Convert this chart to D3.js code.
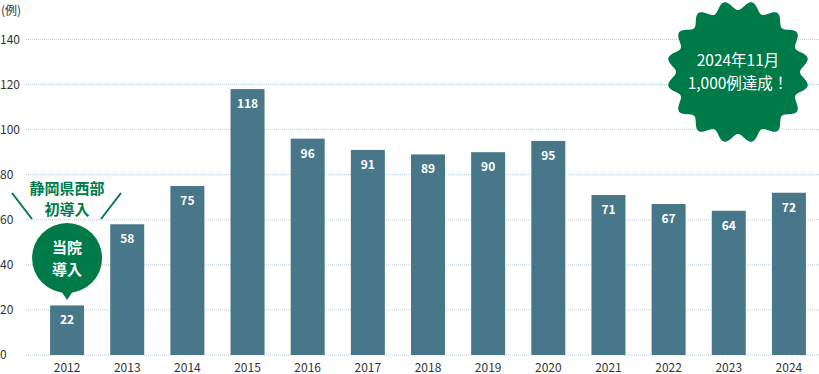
<!DOCTYPE html>
<html>
<head>
<meta charset="utf-8">
<script src="https://cdn.jsdelivr.net/npm/d3@7"></script>
<style>
  body { margin: 0; background: #fff; }
  svg { display: block; font-family: "Noto Sans CJK JP", "Noto Sans", sans-serif; }
</style>
</head>
<body>
<div id="chart"></div>
<script>
// chart data
const years = ["2012", "2013", "2014", "2015", "2016", "2017", "2018", "2019", "2020", "2021", "2022", "2023", "2024"];
const cases = [22, 58, 75, 118, 96, 91, 89, 90, 95, 71, 67, 64, 72];
const yTicks = [0, 20, 40, 60, 80, 100, 120, 140];
const unitLabel = "(例)";
const calloutLines = ["当院", "導入"];
const firstLines = ["静岡県西部", "初導入"];
const badgeLines = ["2024年11月", "1,000例達成！"];

const width = 819, height = 374;
const barColor = "#477789";
const green = "#007a48";

const svg = d3.select("#chart").append("svg")
    .attr("width", width)
    .attr("height", height);

const x = d3.scaleBand()
    .domain(years)
    .range([37, 819])
    .paddingInner(0.435)
    .paddingOuter(0.2175);

const y = d3.scaleLinear()
    .domain([0, 140])
    .range([355, 39.5]);

// gridlines
svg.append("g")
    .selectAll("line")
    .data(yTicks)
    .enter()
    .append("line")
    .attr("x1", 26)
    .attr("x2", width)
    .attr("y1", d => y(d))
    .attr("y2", d => y(d))
    .attr("stroke", "#b9cfdc")
    .attr("stroke-width", 1)
    .attr("stroke-dasharray", "1,1");

// y axis labels
svg.append("g")
    .selectAll("text")
    .data(yTicks)
    .enter()
    .append("text")
    .attr("x", 0)
    .attr("y", d => y(d))
    .attr("dy", "0.35em")
    .attr("font-size", 12)
    .attr("fill", "#333")
    .text(d => d);

svg.append("text")
    .attr("x", 1)
    .attr("y", 15)
    .attr("font-size", 12)
    .attr("fill", "#333")
    .text(unitLabel);

// bars
svg.append("g")
    .selectAll("rect")
    .data(cases)
    .enter()
    .append("rect")
    .attr("x", (d, i) => x(years[i]))
    .attr("y", d => y(d))
    .attr("width", x.bandwidth())
    .attr("height", d => y(0) - y(d))
    .attr("fill", barColor);

// value labels
svg.append("g")
    .selectAll("text")
    .data(cases)
    .enter()
    .append("text")
    .attr("x", (d, i) => x(years[i]) + x.bandwidth() / 2)
    .attr("y", d => y(d) + 19)
    .attr("text-anchor", "middle")
    .attr("font-size", 12)
    .attr("font-weight", "bold")
    .attr("fill", "#fff")
    .text(d => d);

// x axis labels
svg.append("g")
    .selectAll("text")
    .data(years)
    .enter()
    .append("text")
    .attr("x", d => x(d) + x.bandwidth() / 2)
    .attr("y", 372)
    .attr("text-anchor", "middle")
    .attr("font-size", 12)
    .attr("fill", "#333")
    .text(d => d);

// callout bubble over 2012
const cx = x(years[0]) + x.bandwidth() / 2;
const bubble = svg.append("g");
bubble.append("circle")
    .attr("cx", cx)
    .attr("cy", 258)
    .attr("r", 35)
    .attr("fill", green);
bubble.append("path")
    .attr("d", `M${cx - 8},288 L${cx},300 L${cx + 8},288 Z`)
    .attr("fill", green);
bubble.selectAll("text")
    .data(calloutLines)
    .enter()
    .append("text")
    .attr("x", cx)
    .attr("y", (d, i) => 253 + i * 22)
    .attr("text-anchor", "middle")
    .attr("font-size", 15)
    .attr("font-weight", "bold")
    .attr("fill", "#fff")
    .text(d => d);

// "first in region" note
svg.append("g")
    .selectAll("text")
    .data(firstLines)
    .enter()
    .append("text")
    .attr("x", cx)
    .attr("y", (d, i) => 194 + i * 21)
    .attr("text-anchor", "middle")
    .attr("font-size", 15)
    .attr("font-weight", "bold")
    .attr("fill", green)
    .text(d => d);

svg.append("line")
    .attr("x1", 12).attr("y1", 193)
    .attr("x2", 32).attr("y2", 219)
    .attr("stroke", green).attr("stroke-width", 2);
svg.append("line")
    .attr("x1", 121).attr("y1", 193)
    .attr("x2", 101).attr("y2", 219)
    .attr("stroke", green).attr("stroke-width", 2);

// wavy badge (16 lobes, dip at the top)
const bx = 738, by = 72;
const badgePts = d3.range(0, 721).map(k => {
    const a = (k / 720) * Math.PI * 2;
    const r = 66.5 - 4.5 * Math.cos(16 * a);
    return [bx + r * Math.sin(a), by - r * Math.cos(a)];
});
svg.append("path")
    .attr("d", d3.line().curve(d3.curveLinearClosed)(badgePts))
    .attr("fill", green);

svg.append("g")
    .selectAll("text")
    .data(badgeLines)
    .enter()
    .append("text")
    .attr("x", bx)
    .attr("y", (d, i) => 66 + i * 23)
    .attr("text-anchor", "middle")
    .attr("font-size", 15.5)
    .attr("fill", "#fff")
    .text(d => d);
</script>
</body>
</html>
